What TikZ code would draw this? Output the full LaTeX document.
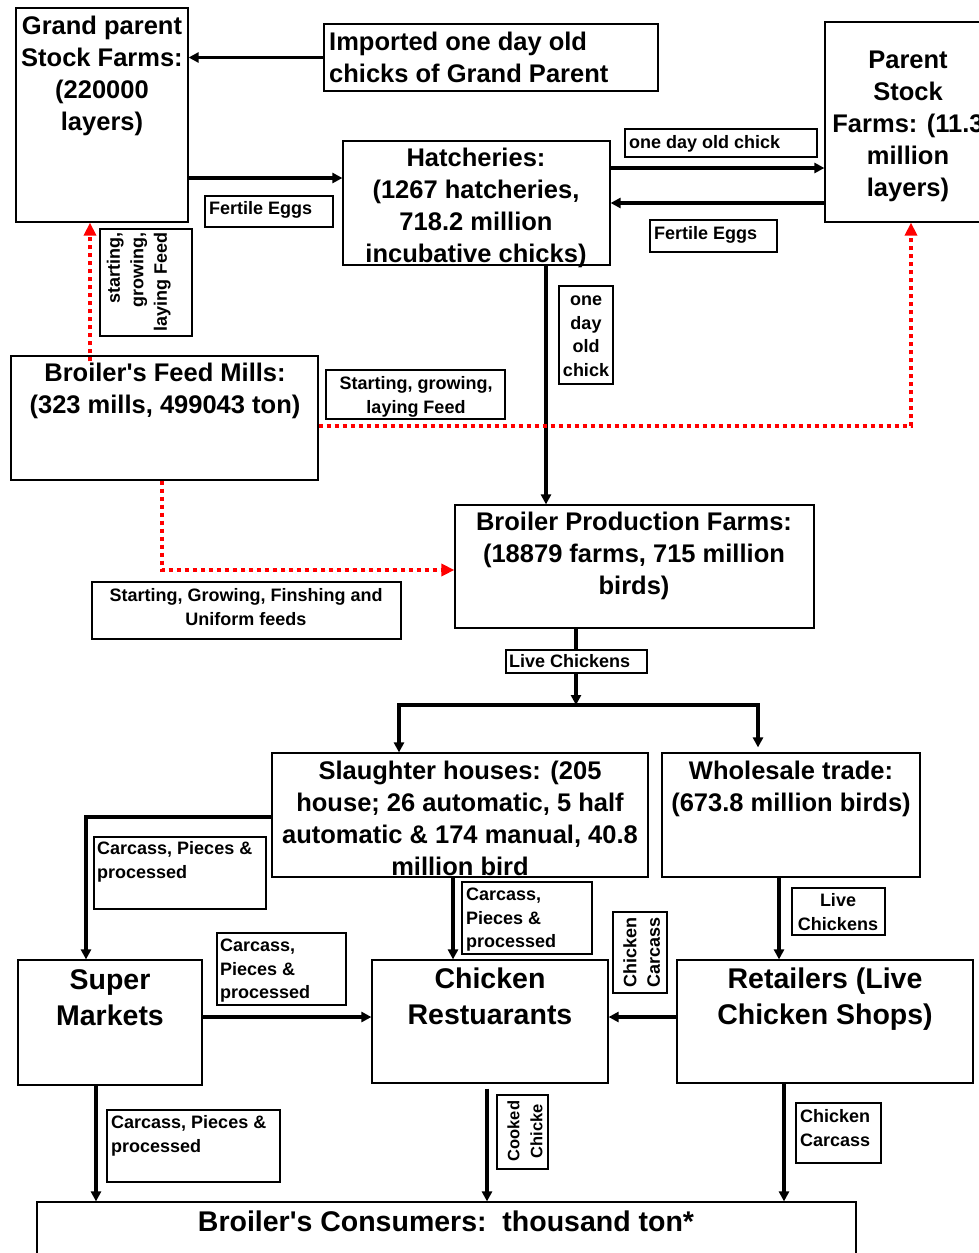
\documentclass[tikz,border=0pt]{standalone}
\usepackage{fontspec}
\setmainfont{Liberation Sans}
\usetikzlibrary{arrows.meta,fit,calc}
\begin{document}
\begin{tikzpicture}[x=1pt,y=-1pt,
  bx/.style={draw=black, line width=1.2pt, inner sep=0pt},
  lbx/.style={draw=black, fill=white, line width=1.2pt, inner sep=0pt},
  big/.style={inner sep=0pt, font=\fontsize{25.5}{32}\selectfont\bfseries, align=center},
  bot/.style={inner sep=0pt, font=\fontsize{28.5}{36}\selectfont\bfseries, align=center},
  lab/.style={inner sep=0pt, font=\fontsize{18}{23.5}\selectfont\bfseries},
  arr/.style={line width=3.6pt, -{Triangle[length=10pt,width=10pt]}},
  rarr/.style={draw=red, line width=3.5pt, dash pattern=on 4pt off 4pt, -{Triangle[length=13pt,width=12pt]}}
]
\useasboundingbox (0,0) rectangle (979,1253);
\clip (0,0) rectangle (979,1253);

% main boxes
\node[bx, fit={(16,8)(188,222)}] (gp) {};
\node[bx, fit={(324,24)(658,91)}] (imp) {};
\node[bx, fit={(825,22)(991,222)}] (par) {};
\node[bx, fit={(343,141)(610,265)}] (hat) {};
\node[bx, fit={(11,356)(318,480)}] (fm) {};
\node[bx, fit={(455,505)(814,628)}] (bpf) {};
\node[bx, fit={(272,753)(648,877)}] (sh) {};
\node[bx, fit={(662,753)(920,877)}] (wh) {};
\node[bx, fit={(18,960)(202,1085)}] (sm) {};
\node[bx, fit={(372,960)(608,1083)}] (cr) {};
\node[bx, fit={(677,960)(973,1083)}] (rt) {};
\node[bx, fit={(37,1202)(856,1262)}] (co) {};

% main texts
\node[big, anchor=north] (gpt) at (102,11.7) {\strut Grand parent\\Stock Farms:\\(220000\\layers)};
\node[big, anchor=north west, align=left] (impt) at (329,27.7) {\strut Imported one day old\\chicks of Grand Parent};
\node[big, anchor=north] (part) at (908,45.7) {\strut Parent\\Stock\\Farms: (11.3\\million\\layers)};
\node[big, anchor=north] (hatt) at (476,143.7) {\strut Hatcheries:\\(1267 hatcheries,\\718.2 million\\incubative chicks)};
\node[big, anchor=north] (fmt) at (165,358.7) {\strut Broiler\textquotesingle s Feed Mills:\\(323 mills, 499043 ton)};
\node[big, anchor=north] (bpft) at (634,507.7) {\strut Broiler Production Farms:\\(18879 farms, 715 million\\birds)};
\node[big, anchor=north] (sht) at (460,756.7) {\strut Slaughter houses: (205\\house; 26 automatic, 5 half\\automatic \& 174 manual, 40.8\\million bird};
\node[big, anchor=north] (wht) at (791,756.7) {\strut Wholesale trade:\\(673.8 million birds)};
\node[bot, anchor=north] (smt) at (110,964) {\strut Super\\Markets};
\node[bot, anchor=north] (crt) at (490,963) {\strut Chicken\\Restuarants};
\node[bot, anchor=north] (rtt) at (825,963) {\strut Retailers (Live\\Chicken Shops)};
\node[bot, anchor=north] (cot) at (446,1206) {\strut Broiler\textquotesingle s Consumers:\ \ thousand ton*};

% connectors
\draw[arr] (imp.west) -- (imp.west -| gp.east);
\draw[arr] (gp.east |- 0,178) -- (hat.west |- 0,178);
\draw[arr] (hat.east |- 0,168) -- (par.west |- 0,168);
\draw[arr] (par.west |- 0,203) -- (hat.east |- 0,203);
\draw[arr] (hat.south -| 546,0) -- (bpf.north -| 546,0);

\draw[rarr] ($(fm.north -| 90,0)+(0,6)$) -- (gp.south -| 90,0);
\draw[rarr] (fm.east |- 0,426) -| (par.south -| 911,0);
\draw[rarr] (fm.south -| 162,0) |- (bpf.west |- 0,570);

\coordinate (sp) at (576,705);
\coordinate (spl) at (399,705);
\coordinate (spr) at (758,705);
\draw[arr] (bpf.south -| sp) -- (sp);
\draw[arr] (sp) -- (spl) -- (sh.north -| spl);
\draw[arr] (sp) -- (spr) -- ($(wh.north -| spr)+(0,-5)$);

\draw[arr] (sh.west |- 0,817) -| (sm.north -| 86,0);
\draw[arr] (sh.south -| 453,0) -- (cr.north -| 453,0);
\draw[arr] (wh.south -| 779,0) -- (rt.north -| 779,0);
\draw[arr] (sm.east |- 0,1017) -- (cr.west |- 0,1017);
\draw[arr] (rt.west |- 0,1017) -- (cr.east |- 0,1017);
\draw[arr] (sm.south -| 96,0) -- (co.north -| 96,0);
\draw[arr] ($(cr.south -| 487,0)+(0,5)$) -- (co.north -| 487,0);
\draw[arr] (rt.south -| 784,0) -- (co.north -| 784,0);

% label boxes
\node[lbx, fit={(205,196)(333,227)}] (l1) {};
\node[lab, anchor=north west] (l1t) at (209,198) {\strut Fertile Eggs};
\node[lbx, fit={(625,129)(817,157)}] (l2) {};
\node[lab, anchor=north west] (l2t) at (629,132) {\strut one day old chick};
\node[lbx, fit={(650,220)(777,252)}] (l3) {};
\node[lab, anchor=north west] (l3t) at (654,223) {\strut Fertile Eggs};
\node[lbx, fit={(100,229)(192,336)}] (l4) {};
\node[lab, rotate=90, align=right] (l4t) at (137,282) {\strut starting,\\growing,\\laying Feed};
\node[lbx, fit={(326,370)(505,419)}] (l5) {};
\node[lab, anchor=north, align=center] (l5t) at (416,373) {\strut Starting, growing,\\laying Feed};
\node[lbx, fit={(559,286)(613,384)}] (l6) {};
\node[lab, anchor=north, align=center] (l6t) at (586,289) {\strut one\\day\\old\\chick};
\node[lbx, fit={(92,582)(401,639)}] (l7) {};
\node[lab, anchor=north, align=center] (l7t) at (246,585) {\strut Starting, Growing, Finshing and\\Uniform feeds};
\node[lbx, fit={(506,650)(647,673)}] (l8) {};
\node[lab, anchor=north west] (l8t) at (509,651) {\strut Live Chickens};
\node[lbx, fit={(94,837)(266,909)}] (l9) {};
\node[lab, anchor=north west, align=left] (l9t) at (97,838) {\strut Carcass, Pieces \&\\processed};
\node[lbx, fit={(462,882)(592,954)}] (l10) {};
\node[lab, anchor=north west, align=left] (l10t) at (466,884) {\strut Carcass,\\Pieces \&\\processed};
\node[lbx, fit={(613,912)(667,993)}] (l11) {};
\node[lab, rotate=90, align=center] (l11t) at (640,952) {\strut Chicken\\Carcass};
\node[lbx, fit={(792,888)(885,935)}] (l12) {};
\node[lab, anchor=north, align=center] (l12t) at (838,890) {\strut Live\\Chickens};
\node[lbx, fit={(217,933)(346,1005)}] (l13) {};
\node[lab, anchor=north west, align=left] (l13t) at (220,935) {\strut Carcass,\\Pieces \&\\processed};
\node[lbx, fit={(107,1110)(280,1182)}] (l14) {};
\node[lab, anchor=north west, align=left] (l14t) at (111,1112) {\strut Carcass, Pieces \&\\processed};
\node[lbx, fit={(497,1095)(548,1169)}] (l15) {};
\node[lab, rotate=90, align=center, font=\fontsize{16.5}{23}\selectfont\bfseries] (l15t) at (523,1131) {\strut Cooked\\Chicke};
\node[lbx, fit={(796,1103)(881,1163)}] (l16) {};
\node[lab, anchor=north west, align=left] (l16t) at (800,1106) {\strut Chicken\\Carcass};
\end{tikzpicture}
\end{document}
